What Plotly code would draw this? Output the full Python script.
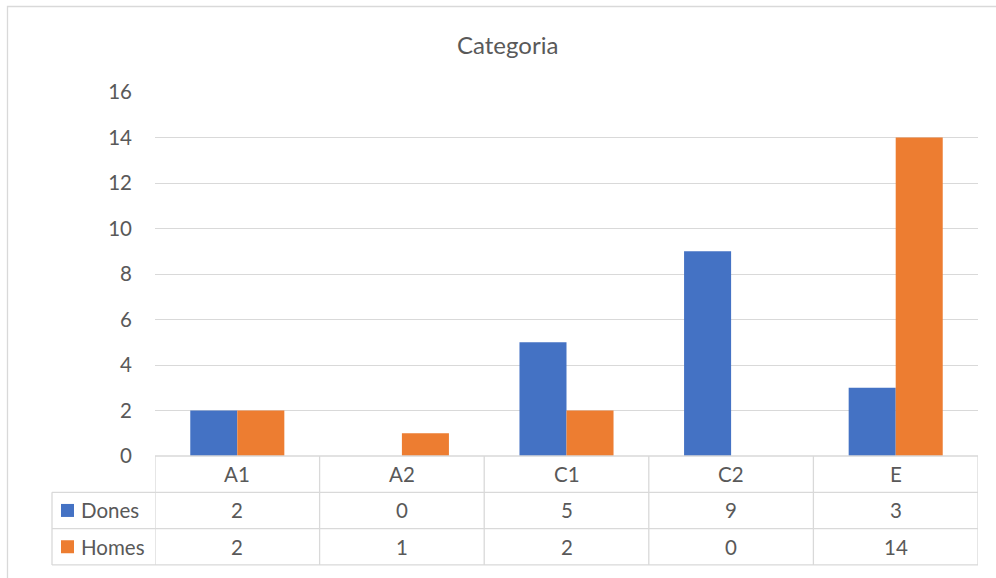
import plotly.graph_objects as go

categories = ["A1", "A2", "C1", "C2", "E"]
series_names = ["Dones", "Homes"]
dones = [2, 0, 5, 9, 3]
homes = [2, 1, 2, 0, 14]
colors = ["#4472C4", "#ED7D31"]
y_ticks = [0, 2, 4, 6, 8, 10, 12, 14, 16]

W, H = 996, 578
L, R, T, B = 155, 978, 92, 456
pw, ph = R - L, B - T

def xp(px):
    return (px - L) / pw

def yp(py):
    return (B - py) / ph

FONT = "Lato"
TXT = "#595959"
GRID = "#D9D9D9"

fig = go.Figure()
for name, vals, col in zip(series_names, [dones, homes], colors):
    fig.add_trace(go.Bar(x=categories, y=vals, name=name, marker_color=col,
                         marker_line_width=0))

shapes = []
annotations = []
row_h = 36.3
rows_y = [B, B + row_h, B + 2 * row_h, B + 3 * row_h]
left_px = 52
n = len(categories)
line = dict(color=GRID, width=1.3)

# horizontal table lines
shapes.append(dict(type="line", xref="paper", yref="paper", x0=0, x1=1,
                   y0=yp(rows_y[0]), y1=yp(rows_y[0]), line=line))
for ry in rows_y[1:]:
    shapes.append(dict(type="line", xref="paper", yref="paper", x0=xp(left_px), x1=1,
                       y0=yp(ry), y1=yp(ry), line=line))
# vertical table lines
for i in range(n + 1):
    shapes.append(dict(type="line", xref="x", yref="paper", x0=i - 0.5, x1=i - 0.5,
                       y0=yp(rows_y[0]), y1=yp(rows_y[3]), line=line))
shapes.append(dict(type="line", xref="paper", yref="paper", x0=xp(left_px), x1=xp(left_px),
                   y0=yp(rows_y[1]), y1=yp(rows_y[3]), line=line))

# outer chart border
shapes.append(dict(type="rect", xref="paper", yref="paper", x0=xp(7.5), x1=xp(1010),
                   y0=yp(600), y1=yp(6.5), line=dict(color=GRID, width=1.3)))

font = dict(size=20.5, color=TXT, family=FONT)
# category labels
for i, c in enumerate(categories):
    annotations.append(dict(x=i, xref="x", y=yp((rows_y[0] + rows_y[1]) / 2), yref="paper",
                            xanchor="center", yanchor="middle",
                            text=c, showarrow=False, font=font))
# series rows
for r, (name, vals, col) in enumerate(zip(series_names, [dones, homes], colors)):
    cy = (rows_y[r + 1] + rows_y[r + 2]) / 2
    shapes.append(dict(type="rect", xref="paper", yref="paper", x0=xp(61), x1=xp(74),
                       y0=yp(cy + 6.5), y1=yp(cy - 6.5), fillcolor=col, line=dict(width=0)))
    annotations.append(dict(x=xp(79), xref="paper", y=yp(cy), yref="paper",
                            xanchor="left", yanchor="middle",
                            text=name, showarrow=False, font=font))
    for i, v in enumerate(vals):
        annotations.append(dict(x=i, xref="x", y=yp(cy), yref="paper", text=str(v),
                                xanchor="center", yanchor="middle",
                                showarrow=False, font=font))

annotations.append(dict(x=xp(507), xref="paper", y=yp(44), yref="paper", text="Categoria",
                        xanchor="center", yanchor="middle",
                        showarrow=False, font=dict(size=24, color=TXT, family=FONT)))

fig.update_layout(
    width=W, height=H,
    margin=dict(l=L, r=W - R, t=T, b=H - B, pad=0),
    paper_bgcolor="white", plot_bgcolor="white",
    showlegend=False,
    barmode="group", bargap=0.4286, bargroupgap=0,
    shapes=shapes, annotations=annotations,
    xaxis=dict(range=[-0.5, n - 0.5], showticklabels=False, showgrid=False,
               zeroline=False, showline=False, ticks=""),
    yaxis=dict(range=[0, 16], tickvals=y_ticks, showgrid=True, gridcolor=GRID, gridwidth=1.3,
               zeroline=False, showline=False, ticks="", ticklabelstandoff=22,
               tickfont=font),
)

fig.write_html("out.html", config={"displayModeBar": False},
               post_script="document.body.style.margin='0';document.body.style.overflow='hidden';")
